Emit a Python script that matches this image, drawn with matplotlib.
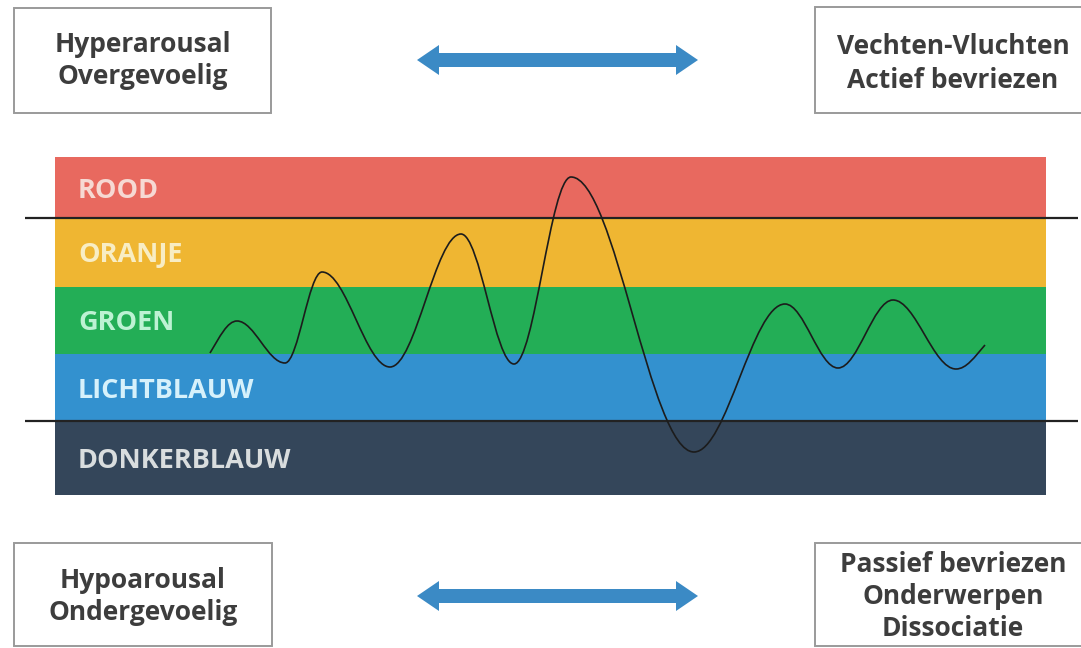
import matplotlib
matplotlib.use("Agg")
import matplotlib.pyplot as plt
from matplotlib.path import Path
from matplotlib.patches import PathPatch, Rectangle, FancyArrow

plt.rcParams['font.family'] = ['Open Sans', 'DejaVu Sans']

# ---- data ----
band_names = ["ROOD", "ORANJE", "GROEN", "LICHTBLAUW", "DONKERBLAUW"]
band_edges = [157, 218, 287, 354, 421, 495]          # arousal scale (top -> bottom)
band_colors = ["#E8695F", "#EFB632", "#23AE56", "#3391CF", "#34465A"]
label_colors = ["#F6D9D3", "#F8EDC4", "#BDF2D3", "#D6F1FB", "#D9DDDE"]
window_limits = [218, 421]                            # window of tolerance lines

wave_x = [210, 237, 285, 322, 390, 461, 514, 571, 694, 785, 838, 893, 956, 985]
wave_y = [353, 321, 363, 272, 367, 234, 364, 177, 452, 304, 368, 300, 369, 345]

top_left = ["Hyperarousal", "Overgevoelig"]
top_right = ["Vechten-Vluchten", "Actief bevriezen"]
bottom_left = ["Hypoarousal", "Ondergevoelig"]
bottom_right = ["Passief bevriezen", "Onderwerpen", "Dissociatie"]

# ---- figure ----
W, H = 1081, 648
fig = plt.figure(figsize=(W / 100, H / 100), dpi=100)
ax = fig.add_axes([0, 0, 1, 1])
ax.set_xlim(0, W)
ax.set_ylim(H, 0)
ax.axis("off")

band_x0, band_x1 = 55, 1046
for i, name in enumerate(band_names):
    y0, y1 = band_edges[i], band_edges[i + 1]
    ax.add_patch(Rectangle((band_x0, y0), band_x1 - band_x0, y1 - y0,
                           facecolor=band_colors[i], edgecolor="none", zorder=1))
    ax.text(78, (y0 + y1) / 2 + 3, name, color=label_colors[i], fontsize=19.5,
            fontweight="bold", ha="left", va="center", zorder=3)

for yl in window_limits:
    ax.plot([25, 1078], [yl, yl], color="#222222", lw=1.6, zorder=4,
            solid_capstyle="butt")

# smooth wave through extrema (cubic Bezier segments)
a = 0.36
verts = [(wave_x[0], wave_y[0])]
codes = [Path.MOVETO]
n = len(wave_x)
for i in range(n - 1):
    x0, y0, x1, y1 = wave_x[i], wave_y[i], wave_x[i + 1], wave_y[i + 1]
    dx, dy = x1 - x0, y1 - y0
    c1 = (x0 + a * dx, y0 + (0.5 * dy if i == 0 else 0))
    c2 = (x1 - a * dx, y1 - (0.5 * dy if i == n - 2 else 0))
    verts += [c1, c2, (x1, y1)]
    codes += [Path.CURVE4] * 3
ax.add_patch(PathPatch(Path(verts, codes), facecolor="none",
                       edgecolor="#1c1c1c", lw=1.2, zorder=5))

# boxes
def box(x0, y0, x1, y1):
    ax.add_patch(Rectangle((x0, y0), x1 - x0, y1 - y0, facecolor="white",
                           edgecolor="#9a9a9a", lw=1.4, zorder=2))

def lines(cx, ys, texts):
    for y, t in zip(ys, texts):
        ax.text(cx, y, t, color="#3d3d3d", fontsize=19, fontweight="bold",
                ha="center", va="center", zorder=3)

box(14, 8, 271, 113)
lines(143, [45, 76], top_left)
box(815, 7, 1090, 113)
lines(953, [46, 80], top_right)
box(14, 543, 272, 646)
lines(143, [581, 612], bottom_left)
box(815, 543, 1090, 646)
lines(953, [565, 597, 628], bottom_right)

# arrows
arrow_color = "#3B8AC5"
for yc in (60, 596):
    xc = (417 + 698) / 2
    for tip, start in ((417, xc + 15), (698, xc - 15)):
        ax.add_patch(FancyArrow(start, yc, tip - start, 0, width=14, head_width=30,
                                head_length=22, length_includes_head=True,
                                facecolor=arrow_color, edgecolor="none", zorder=3))

fig.savefig("out.png", dpi=100)
